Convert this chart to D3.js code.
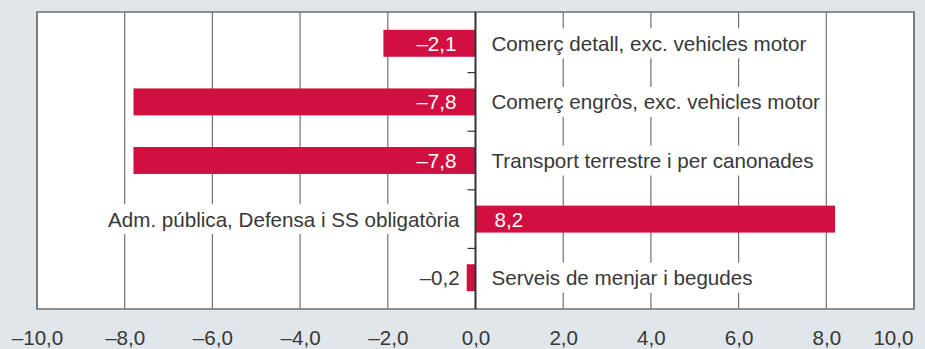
<!DOCTYPE html>
<html>
<head>
<meta charset="utf-8">
<script src="https://cdn.jsdelivr.net/npm/d3@7"></script>
<style>
  html, body { margin: 0; padding: 0; background: #e1e6ea; }
  svg { display: block; }
  text { font-family: "Liberation Sans", Arial, Helvetica, sans-serif; }
</style>
</head>
<body>
<svg id="chart" width="925" height="349"></svg>
<script>
// Sectors and their variation (%)
const categories = [
  "Comerç detall, exc. vehicles motor",
  "Comerç engròs, exc. vehicles motor",
  "Transport terrestre i per canonades",
  "Adm. pública, Defensa i SS obligatòria",
  "Serveis de menjar i begudes"
];
const values = [-2.1, -7.8, -7.8, 8.2, -0.2];
const tickValues = [-10, -8, -6, -4, -2, 0, 2, 4, 6, 8, 10];

const fmt = v => (v < 0 ? "\u2013" : "") + Math.abs(v).toFixed(1).replace(".", ",");
const FS = 20.6;
const TXT = "#383838";

const svg = d3.select("#chart");
const plot = { left: 37, right: 914, top: 12, bottom: 309 };

const x = d3.scaleLinear().domain([-10, 10]).range([plot.left, plot.right]);
const y = d3.scaleBand().domain(categories).range([14, 307]).paddingInner(0.54).paddingOuter(0.27);

// plot background
svg.append("rect")
  .attr("x", plot.left).attr("y", plot.top)
  .attr("width", plot.right - plot.left).attr("height", plot.bottom - plot.top)
  .attr("fill", "#fff");

// vertical gridlines
svg.append("g").selectAll("line")
  .data(tickValues.filter(t => t !== 0))
  .join("line")
  .attr("x1", d => x(d)).attr("x2", d => x(d))
  .attr("y1", plot.top).attr("y2", plot.bottom)
  .attr("stroke", "#6f6f6f").attr("stroke-width", 1.2);

// frame
svg.append("rect")
  .attr("x", plot.left).attr("y", plot.top)
  .attr("width", plot.right - plot.left).attr("height", plot.bottom - plot.top)
  .attr("fill", "none").attr("stroke", "#6f6f6f").attr("stroke-width", 1.5);

// category labels with white backing
const catG = svg.append("g");
categories.forEach((c, i) => {
  const v = values[i];
  const cy = y(c) + y.bandwidth() / 2;
  const neg = v < 0;
  const t = catG.append("text")
    .attr("x", neg ? x(0) + 16 : x(0) - 16)
    .attr("y", cy)
    .attr("dy", "0.36em")
    .attr("text-anchor", neg ? "start" : "end")
    .attr("font-size", FS)
    .attr("fill", TXT)
    .text(c);
  const bb = t.node().getBBox();
  catG.insert("rect", "text")
    .attr("x", bb.x - 4).attr("y", cy - 15)
    .attr("width", bb.width + 8).attr("height", 30)
    .attr("fill", "#fff");
});

// bars
svg.append("g").selectAll("rect")
  .data(values)
  .join("rect")
  .attr("x", d => x(Math.min(0, d)))
  .attr("width", d => Math.abs(x(d) - x(0)))
  .attr("y", (d, i) => y(categories[i]))
  .attr("height", y.bandwidth())
  .attr("fill", "#d20f41");

// value labels
svg.append("g").selectAll("text")
  .data(values)
  .join("text")
  .attr("x", d => {
    if (d >= 0) return x(0) + 19;
    return Math.abs(x(d) - x(0)) > 40 ? x(0) - 19 : x(d) - 7;
  })
  .attr("y", (d, i) => y(categories[i]) + y.bandwidth() / 2)
  .attr("dy", "0.36em")
  .attr("text-anchor", d => d >= 0 ? "start" : "end")
  .attr("font-size", FS)
  .attr("fill", d => Math.abs(x(d) - x(0)) > 40 ? "#fff" : TXT)
  .text(fmt);

// zero axis with small ticks between categories
const zx = x(0);
svg.append("line")
  .attr("x1", zx).attr("x2", zx)
  .attr("y1", plot.top).attr("y2", plot.bottom)
  .attr("stroke", "#333").attr("stroke-width", 2);
const step = y.step();
svg.append("g").selectAll("line")
  .data(categories.slice(1))
  .join("line")
  .attr("x1", zx - 8).attr("x2", zx)
  .attr("y1", d => y(d) - step * y.paddingInner() / 2)
  .attr("y2", d => y(d) - step * y.paddingInner() / 2)
  .attr("stroke", "#333").attr("stroke-width", 1.2);

// x axis tick labels
const axis = d3.axisBottom(x).tickValues(tickValues).tickSize(0).tickFormat(fmt);
const ax = svg.append("g").attr("transform", `translate(0,${plot.bottom})`).call(axis);
ax.select(".domain").remove();
ax.selectAll("text")
  .attr("y", 29)
  .attr("dy", "0.36em")
  .attr("font-size", FS)
  .attr("font-family", "Liberation Sans, Arial, sans-serif")
  .attr("fill", TXT);
// keep the outermost label inside the frame edge
ax.selectAll(".tick").filter(d => d === 10).select("text")
  .attr("text-anchor", "end").attr("x", -1);
</script>
</body>
</html>
